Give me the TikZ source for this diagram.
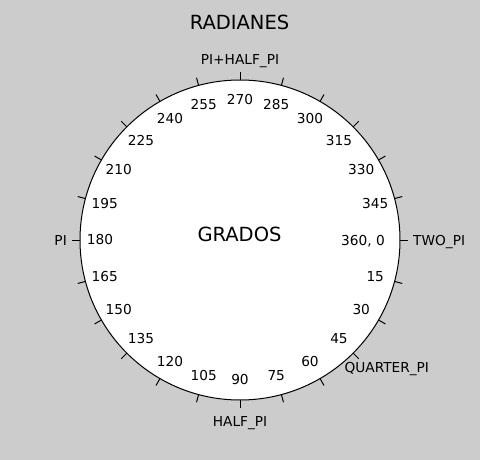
\documentclass[tikz,border=0pt]{standalone}
\usepackage{fontspec}
\setmainfont{DejaVu Sans}
\usetikzlibrary{calc}
\definecolor{bg}{RGB}{204,204,204}
\begin{document}
\begin{tikzpicture}[x=1pt,y=-1pt,
  num/.style={font=\fontsize{13.7}{16}\selectfont, inner sep=0pt},
  rad/.style={font=\fontsize{13.7}{16}\selectfont, inner sep=0pt, anchor=base},
  ttl/.style={font=\fontsize{19.5}{22}\selectfont, inner sep=0pt, anchor=base},
  tickline/.style={line width=1pt}]
\fill[bg] (0,0) rectangle (480,460);
\useasboundingbox (0,0) rectangle (480,460);
\node[circle, draw, fill=white, minimum size=320pt, inner sep=0pt, line width=1pt] (dial) at (240,240) {};
\foreach \a in {0,15,...,345} {
  \draw[tickline] ($(dial.center)+(\a:160)$) -- ($(dial.center)+(\a:168)$);
}
\foreach \a in {15,30,...,345} {
  \node[num] (n\a) at ($(dial.center)+(\a:140)$) {\a};
}
\node[rad] (n0) at (363,245) {360, 0};
\node[rad, anchor=base west] (two) at (413,245.7) {TWO\_PI};
\node[rad, anchor=base east] (pi) at (67,245.7) {PI};
\node[rad] (half) at (240,426) {HALF\_PI};
\node[rad] (phalf) at (240,65) {PI+HALF\_PI};
\node[rad] (quarter) at (386.8,372.3) {QUARTER\_PI};
\node[ttl] (title) at (239.5,30) {RADIANES};
\node[ttl] (grados) at (239.5,241.7) {GRADOS};
\end{tikzpicture}
\end{document}
